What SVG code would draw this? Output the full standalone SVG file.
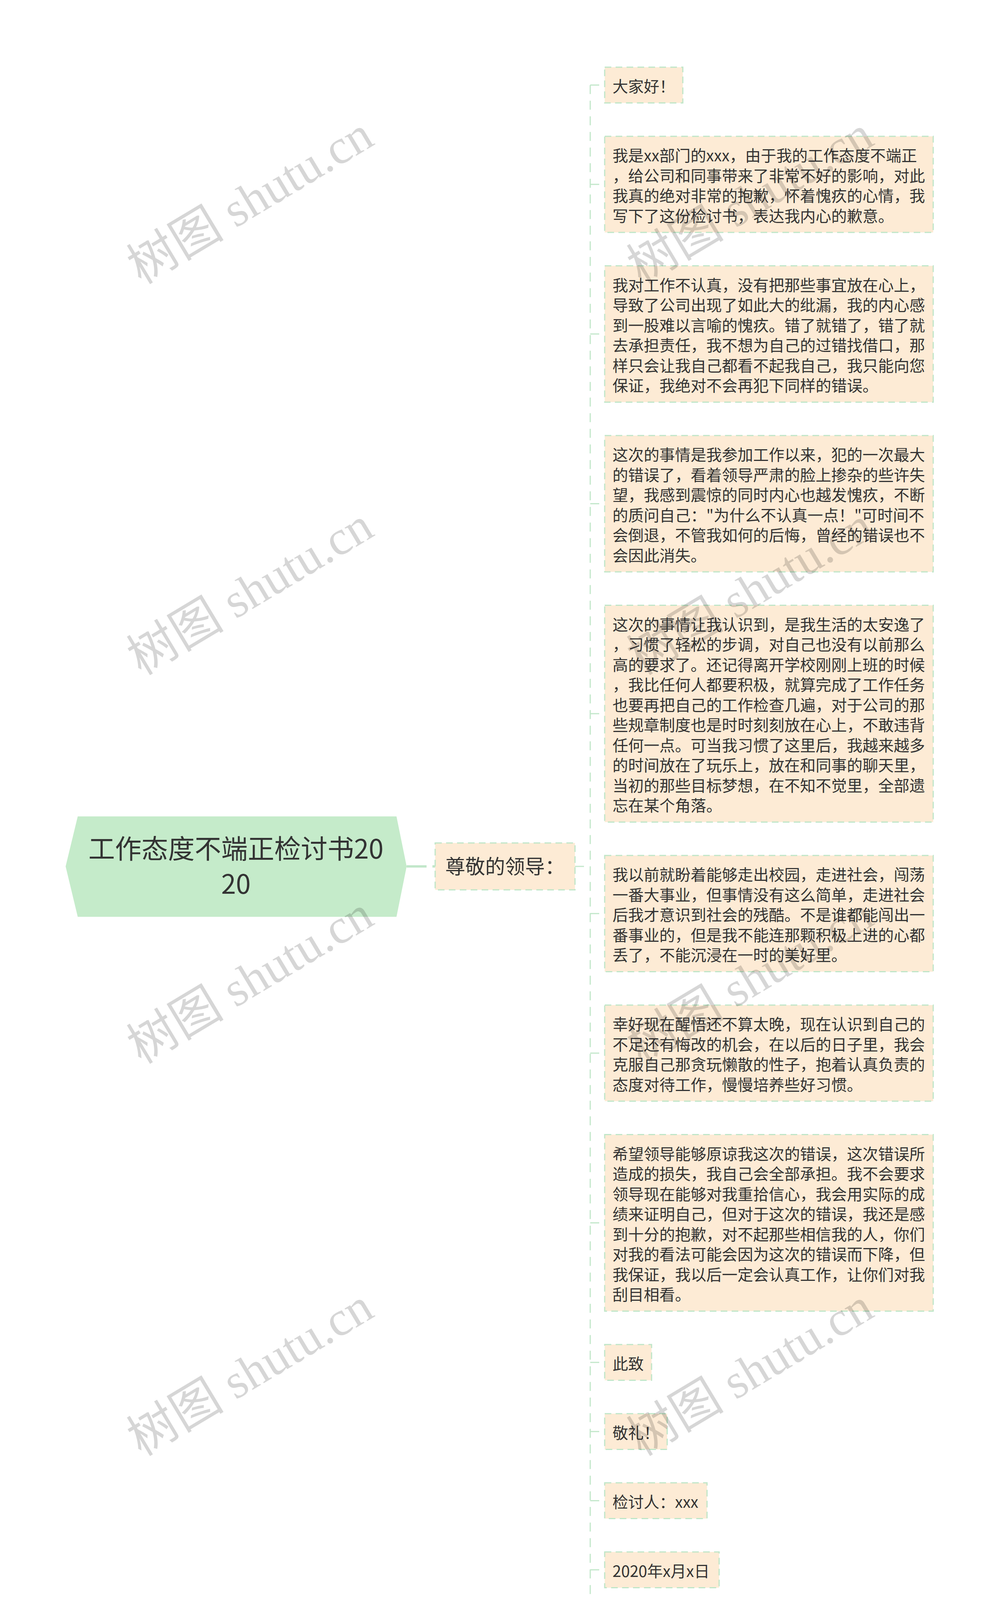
<svg xmlns="http://www.w3.org/2000/svg" width="2560" height="4463" viewBox="0 0 2560 4463">
<style>
.bg{fill:#ffffff}
.box{fill:#fdebd5;stroke:#bfe6c8;stroke-width:3;stroke-dasharray:17 11}
.t{font-family:"Noto Sans CJK SC","Noto Sans",sans-serif;font-size:40px;fill:#333333}
.conn{fill:none;stroke:#c2e7ca;stroke-width:3;stroke-dasharray:23 17}
.wm{font-family:"Liberation Serif","Noto Sans CJK SC",serif;font-size:125px;fill:#000000;fill-opacity:0.16}
</style>
<rect class="bg" x="0" y="0" width="2560" height="4463"/>
<g id="connectors">
<path d="M1041 2218 H1114" fill="none" stroke="#c2e7ca" stroke-width="6" stroke-dasharray="51 15"/>
<path class="conn" d="M1472 2218 H1511"/>
<path class="conn" d="M1511 217.75 V4221.5"/>
<path class="conn" d="M1511 217.75 H1548"/>
<path class="conn" d="M1511 472 H1548"/>
<path class="conn" d="M1511 855 H1548"/>
<path class="conn" d="M1511 1289.5 H1548"/>
<path class="conn" d="M1511 1827 H1548"/>
<path class="conn" d="M1511 2338.75 H1548"/>
<path class="conn" d="M1511 2696 H1548"/>
<path class="conn" d="M1511 3130.5 H1548"/>
<path class="conn" d="M1511 3487.75 H1548"/>
<path class="conn" d="M1511 3664.75 H1548"/>
<path class="conn" d="M1511 3841.75 H1548"/>
<path class="conn" d="M1511 4018.75 H1548"/>
<path class="conn" d="M1511 4221.5 H1548"/>
</g>
<g id="root">
<polygon points="199,2090 1015,2090 1041,2218 1015,2347 199,2347 168,2218" fill="#c5ebca"/>
<text font-family="Noto Sans CJK SC, Noto Sans, sans-serif" font-size="68" fill="#333333" text-anchor="middle"><tspan x="604" y="2198">工作态度不端正检讨书20</tspan><tspan x="604" y="2288">20</tspan></text>
</g>
<g id="n-greeting">
<rect class="box" x="1114" y="2158" width="358" height="120"/>
<text font-family="Noto Sans CJK SC, Noto Sans, sans-serif" font-size="51" fill="#333333" x="1140" y="2237">尊敬的领导：</text>
</g>
<g id="c1">
<rect class="box" x="1548" y="172" width="200" height="91.5"/>
<text class="t" x="1568" y="236">大家好！</text>
</g>
<g id="c2">
<rect class="box" x="1548" y="349" width="841" height="246"/>
<text class="t" y="413"><tspan x="1568">我是xx部门的xxx，由于我的工作态度不端正</tspan><tspan x="1568" dy="51.5">，给公司和同事带来了非常不好的影响，对此</tspan><tspan x="1568" dy="51.5">我真的绝对非常的抱歉，怀着愧疚的心情，我</tspan><tspan x="1568" dy="51.5">写下了这份检讨书，表达我内心的歉意。</tspan></text>
</g>
<g id="c3">
<rect class="box" x="1548" y="680.5" width="841" height="349"/>
<text class="t" y="744.5"><tspan x="1568">我对工作不认真，没有把那些事宜放在心上，</tspan><tspan x="1568" dy="51.5">导致了公司出现了如此大的纰漏，我的内心感</tspan><tspan x="1568" dy="51.5">到一股难以言喻的愧疚。错了就错了，错了就</tspan><tspan x="1568" dy="51.5">去承担责任，我不想为自己的过错找借口，那</tspan><tspan x="1568" dy="51.5">样只会让我自己都看不起我自己，我只能向您</tspan><tspan x="1568" dy="51.5">保证，我绝对不会再犯下同样的错误。</tspan></text>
</g>
<g id="c4">
<rect class="box" x="1548" y="1115" width="841" height="349"/>
<text class="t" y="1179"><tspan x="1568">这次的事情是我参加工作以来，犯的一次最大</tspan><tspan x="1568" dy="51.5">的错误了，看着领导严肃的脸上掺杂的些许失</tspan><tspan x="1568" dy="51.5">望，我感到震惊的同时内心也越发愧疚，不断</tspan><tspan x="1568" dy="51.5">的质问自己："为什么不认真一点！"可时间不</tspan><tspan x="1568" dy="51.5">会倒退，不管我如何的后悔，曾经的错误也不</tspan><tspan x="1568" dy="51.5">会因此消失。</tspan></text>
</g>
<g id="c5">
<rect class="box" x="1548" y="1549.5" width="841" height="555"/>
<text class="t" y="1613.5"><tspan x="1568">这次的事情让我认识到，是我生活的太安逸了</tspan><tspan x="1568" dy="51.5">，习惯了轻松的步调，对自己也没有以前那么</tspan><tspan x="1568" dy="51.5">高的要求了。还记得离开学校刚刚上班的时候</tspan><tspan x="1568" dy="51.5">，我比任何人都要积极，就算完成了工作任务</tspan><tspan x="1568" dy="51.5">也要再把自己的工作检查几遍，对于公司的那</tspan><tspan x="1568" dy="51.5">些规章制度也是时时刻刻放在心上，不敢违背</tspan><tspan x="1568" dy="51.5">任何一点。可当我习惯了这里后，我越来越多</tspan><tspan x="1568" dy="51.5">的时间放在了玩乐上，放在和同事的聊天里，</tspan><tspan x="1568" dy="51.5">当初的那些目标梦想，在不知不觉里，全部遗</tspan><tspan x="1568" dy="51.5">忘在某个角落。</tspan></text>
</g>
<g id="c6">
<rect class="box" x="1548" y="2190" width="841" height="297.5"/>
<text class="t" y="2254"><tspan x="1568">我以前就盼着能够走出校园，走进社会，闯荡</tspan><tspan x="1568" dy="51.5">一番大事业，但事情没有这么简单，走进社会</tspan><tspan x="1568" dy="51.5">后我才意识到社会的残酷。不是谁都能闯出一</tspan><tspan x="1568" dy="51.5">番事业的，但是我不能连那颗积极上进的心都</tspan><tspan x="1568" dy="51.5">丢了，不能沉浸在一时的美好里。</tspan></text>
</g>
<g id="c7">
<rect class="box" x="1548" y="2573" width="841" height="246"/>
<text class="t" y="2637"><tspan x="1568">幸好现在醒悟还不算太晚，现在认识到自己的</tspan><tspan x="1568" dy="51.5">不足还有悔改的机会，在以后的日子里，我会</tspan><tspan x="1568" dy="51.5">克服自己那贪玩懒散的性子，抱着认真负责的</tspan><tspan x="1568" dy="51.5">态度对待工作，慢慢培养些好习惯。</tspan></text>
</g>
<g id="c8">
<rect class="box" x="1548" y="2904.5" width="841" height="452"/>
<text class="t" y="2968.5"><tspan x="1568">希望领导能够原谅我这次的错误，这次错误所</tspan><tspan x="1568" dy="51.5">造成的损失，我自己会全部承担。我不会要求</tspan><tspan x="1568" dy="51.5">领导现在能够对我重拾信心，我会用实际的成</tspan><tspan x="1568" dy="51.5">绩来证明自己，但对于这次的错误，我还是感</tspan><tspan x="1568" dy="51.5">到十分的抱歉，对不起那些相信我的人，你们</tspan><tspan x="1568" dy="51.5">对我的看法可能会因为这次的错误而下降，但</tspan><tspan x="1568" dy="51.5">我保证，我以后一定会认真工作，让你们对我</tspan><tspan x="1568" dy="51.5">刮目相看。</tspan></text>
</g>
<g id="c9">
<rect class="box" x="1548" y="3442" width="120" height="91.5"/>
<text class="t" x="1568" y="3506">此致</text>
</g>
<g id="c10">
<rect class="box" x="1548" y="3619" width="160" height="91.5"/>
<text class="t" x="1568" y="3683">敬礼！</text>
</g>
<g id="c11">
<rect class="box" x="1548" y="3796" width="262" height="91.5"/>
<text class="t" x="1568" y="3860">检讨人：xxx</text>
</g>
<g id="c12">
<rect class="box" x="1548" y="3973" width="293" height="91.5"/>
<text class="t" x="1568" y="4037">2020年x月x日</text>
</g>
<g id="c13">
<rect class="box" x="1548" y="4150" width="841" height="143"/>
<text class="t" y="4214"><tspan x="1568">本文为树图网编辑原创文章，版权归树图网所</tspan><tspan x="1568" dy="51.5">有，未经授权杜绝转载，违者追究法律责任。</tspan></text>
</g>
<g id="watermarks">
<text class="wm" text-anchor="middle" x="640" y="555" transform="rotate(-31 640 512)">树图 shutu.cn</text>
<text class="wm" text-anchor="middle" x="1920" y="555" transform="rotate(-31 1920 512)">树图 shutu.cn</text>
<text class="wm" text-anchor="middle" x="640" y="1556" transform="rotate(-31 640 1513)">树图 shutu.cn</text>
<text class="wm" text-anchor="middle" x="1920" y="1556" transform="rotate(-31 1920 1513)">树图 shutu.cn</text>
<text class="wm" text-anchor="middle" x="640" y="2551" transform="rotate(-31 640 2508)">树图 shutu.cn</text>
<text class="wm" text-anchor="middle" x="1920" y="2551" transform="rotate(-31 1920 2508)">树图 shutu.cn</text>
<text class="wm" text-anchor="middle" x="640" y="3555" transform="rotate(-31 640 3512)">树图 shutu.cn</text>
<text class="wm" text-anchor="middle" x="1920" y="3555" transform="rotate(-31 1920 3512)">树图 shutu.cn</text>
<text class="wm" text-anchor="middle" x="640" y="4551" transform="rotate(-31 640 4508)">树图 shutu.cn</text>
<text class="wm" text-anchor="middle" x="1920" y="4551" transform="rotate(-31 1920 4508)">树图 shutu.cn</text>
</g>
</svg>
